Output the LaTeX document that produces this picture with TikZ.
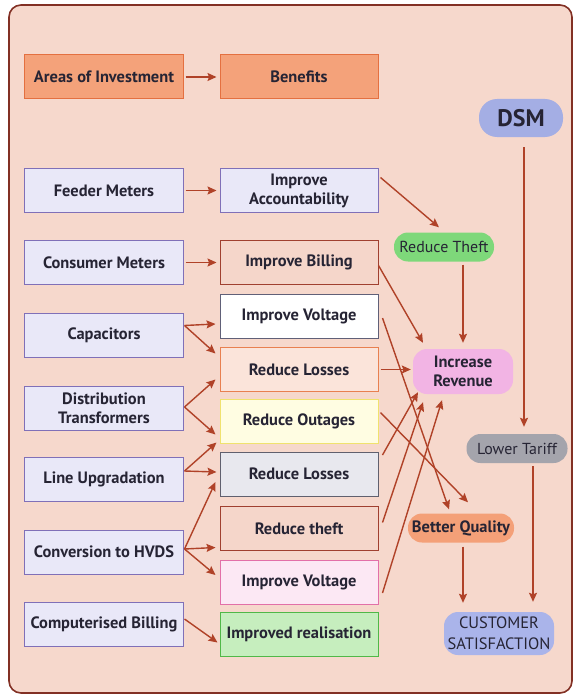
\documentclass[tikz,border=0pt]{standalone}
\usepackage{fontspec}
\setmainfont{PT Sans}
\usepackage{tikz}
\usetikzlibrary{arrows.meta}
\definecolor{arrowred}{RGB}{176,66,40}
\definecolor{framered}{RGB}{130,48,36}
\definecolor{bgpink}{RGB}{246,216,204}
\definecolor{ink}{RGB}{38,36,52}
\definecolor{orangefill}{RGB}{244,162,122}
\definecolor{orangeline}{RGB}{228,112,64}
\definecolor{lavfill}{RGB}{233,232,248}
\definecolor{lavline}{RGB}{128,112,184}
\definecolor{brownfill}{RGB}{245,214,202}
\definecolor{brownline}{RGB}{160,64,48}
\definecolor{greyblue}{RGB}{96,96,120}
\definecolor{peachfill}{RGB}{251,228,218}
\definecolor{peachline}{RGB}{232,128,80}
\definecolor{yelfill}{RGB}{255,253,226}
\definecolor{yelline}{RGB}{240,226,110}
\definecolor{greyfill}{RGB}{232,232,238}
\definecolor{greyline}{RGB}{96,96,110}
\definecolor{pinkfill}{RGB}{252,232,244}
\definecolor{pinkline}{RGB}{226,112,168}
\definecolor{greenfill}{RGB}{198,238,190}
\definecolor{greenline}{RGB}{80,184,72}
\definecolor{dsmfill}{RGB}{164,174,228}
\definecolor{rtfill}{RGB}{126,216,122}
\definecolor{irfill}{RGB}{242,180,228}
\definecolor{ltfill}{RGB}{164,164,172}
\definecolor{bqfill}{RGB}{244,160,120}
\definecolor{csfill}{RGB}{170,180,234}

\begin{document}
\begin{tikzpicture}[x=1bp,y=-1bp,
  every node/.style={font=\fontsize{16.5}{19}\selectfont\bfseries, text=ink, align=center, inner sep=0pt},
  box/.style={draw, line width=1bp, minimum width=158bp, minimum height=44bp},
  invest/.style={box, fill=lavfill, draw=lavline},
  pill/.style={rounded corners=14bp, minimum width=100bp, minimum height=29bp},
  arr/.style={line width=1.4bp, arrowred, -{Stealth[length=9bp,width=8bp,inset=1.5bp]}}]
\useasboundingbox (0,0) rectangle (576,698);
\draw[line width=1.6bp, framered, fill=bgpink, rounded corners=12bp] (9,5) rectangle (572,693);
%LEFT
\node[box, fill=orangefill, draw=orangeline] (areas) at (104,77) {Areas of Investment};
\node[invest] (feeder) at (104,190.5) {Feeder Meters};
\node[invest] (consumer) at (104,262.5) {Consumer Meters};
\node[invest] (capac) at (104,335.5) {Capacitors};
\node[invest] (distr) at (104,408) {Distribution\\Transformers};
\node[invest] (lineup) at (104,479) {Line Upgradation};
\node[invest] (hvds) at (104,552) {Conversion to HVDS};
\node[invest] (compbill) at (104,624) {Computerised Billing};
%MIDDLE
\node[box, fill=orangefill, draw=orangeline] (benefits) at (299,77) {Benefits};
\node[box, fill=lavfill, draw=lavline] (account) at (299,190.5) {Improve\\Accountability};
\node[box, fill=brownfill, draw=brownline] (billing) at (299,262.5) {Improve Billing};
\node[box, fill=white, draw=greyblue] (voltw) at (299,316) {Improve Voltage};
\node[box, fill=peachfill, draw=peachline] (lossp) at (299,369.5) {Reduce Losses};
\node[box, fill=yelfill, draw=yelline] (outage) at (299,421.5) {Reduce Outages};
\node[box, fill=greyfill, draw=greyline] (lossg) at (299,474) {Reduce Losses};
\node[box, fill=brownfill, draw=brownline] (theft) at (299,528.5) {Reduce theft};
\node[box, fill=pinkfill, draw=pinkline] (voltp) at (299,582) {Improve Voltage};
\node[box, fill=greenfill, draw=greenline] (realis) at (299,634.5) {Improved realisation};
%RIGHT
\node[pill, fill=dsmfill, minimum width=84bp, minimum height=38bp, rounded corners=18bp, font=\fontsize{24}{26}\selectfont\bfseries] (dsm) at (521,118) {DSM};
\node[pill, fill=rtfill, font=\fontsize{16}{19}\selectfont] (rtheft) at (444,247) {Reduce Theft};
\node[pill, fill=irfill, minimum height=45bp] (revenue) at (463,371.5) {Increase\\Revenue};
\node[pill, fill=ltfill, minimum width=101bp, font=\fontsize{16}{19}\selectfont] (tariff) at (517,448.5) {Lower Tariff};
\node[pill, fill=bqfill, minimum width=106bp] (quality) at (461,528) {Better Quality};
\node[pill, fill=csfill, minimum width=110bp, minimum height=43bp, font=\fontsize{16.5}{21}\selectfont] (custsat) at (499,633.5) {CUSTOMER\\SATISFACTION};
% left arrows
\draw[arr] ([shift={(2,0)}]areas.east) -- ([shift={(-3,0)}]benefits.west);
\draw[arr] ([shift={(2,0)}]feeder.east) -- ([shift={(-3,0)}]account.west);
\draw[arr] ([shift={(2,0)}]consumer.east) -- ([shift={(-3,0)}]billing.west);
\draw[arr] ([shift={(1,-10)}]capac.east) -- ([shift={(-4,8)}]voltw.west);
\draw[arr] ([shift={(1,-10)}]capac.east) -- ([shift={(-4,-16)}]lossp.west);
\draw[arr] ([shift={(1,-1)}]distr.east) -- ([shift={(-4,10)}]lossp.west);
\draw[arr] ([shift={(1,-1)}]distr.east) -- ([shift={(-4,13)}]outage.west);
\draw[arr] ([shift={(1,-8)}]lineup.east) -- ([shift={(-3,21)}]outage.west);
\draw[arr] ([shift={(1,-8)}]lineup.east) -- ([shift={(-3,-2)}]lossg.west);
\draw[arr] ([shift={(1,-3)}]hvds.east) -- ([shift={(-4,8)}]lossg.west);
\draw[arr] ([shift={(1,-3)}]hvds.east) -- ([shift={(-4,19)}]theft.west);
\draw[arr] ([shift={(1,-3)}]hvds.east) -- ([shift={(-4,-7)}]voltp.west);
\draw[arr] ([shift={(1,-5)}]compbill.east) -- ([shift={(-2,8)}]realis.west);
% right arrows
\draw[arr] ([shift={(2,-13)}]account.east) -- ([shift={(-5,-5)}]rtheft.north);
\draw[arr] ([shift={(0,3)}]billing.east) -- ([shift={(-40,-6)}]revenue.north);
\draw[arr] ([shift={(19,3)}]rtheft.south) -- ([shift={(0,-6)}]revenue.north);
\draw[arr] ([shift={(2,0)}]lossp.east) -- ([shift={(-2,-2)}]revenue.west);
\draw[arr] ([shift={(4,2)}]voltw.east) -- ([shift={(-12,-4)}]quality.north);
\draw[arr] ([shift={(2,-9)}]outage.east) -- ([shift={(7,-11)}]quality.north);
\draw[arr] ([shift={(4,-19)}]lossg.east) -- ([shift={(-45,-2)}]revenue.south);
\draw[arr] ([shift={(4,-6)}]theft.east) -- ([shift={(-40,8)}]revenue.south);
\draw[arr] ([shift={(4,11)}]voltp.east) -- ([shift={(-21,6)}]revenue.south);
\draw[arr] ([shift={(3,10)}]dsm.south) -- ([shift={(7,-7)}]tariff.north);
\draw[arr] ([shift={(16,3)}]tariff.south) -- ([shift={(34,-10)}]custsat.north);
\draw[arr] ([shift={(2,4)}]quality.south) -- ([shift={(-36,-9)}]custsat.north);
\end{tikzpicture}
\end{document}
